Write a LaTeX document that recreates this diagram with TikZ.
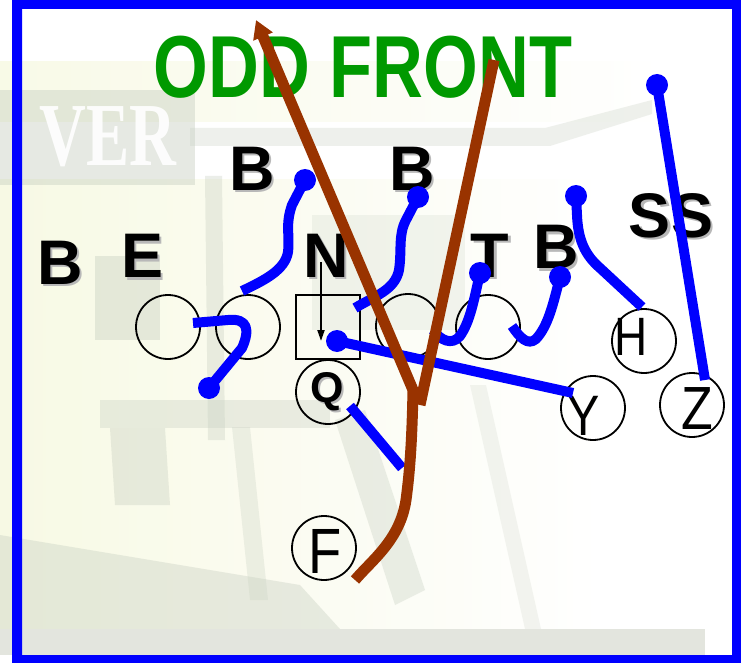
\documentclass[tikz,border=0pt]{standalone}
\usepackage{fontspec}
\usepackage{graphicx}
\usepackage{xcolor}
\setmainfont{Liberation Sans}
\newfontfamily\signfont{Liberation Serif}
\usetikzlibrary{arrows.meta}

\definecolor{routeblue}{RGB}{0,0,255}
\definecolor{runbrown}{RGB}{153,51,0}
\definecolor{titlegreen}{RGB}{0,153,0}
\definecolor{bggray}{RGB}{200,208,194}
\definecolor{bgdark}{RGB}{176,186,172}
\definecolor{bgyellow}{RGB}{246,248,222}
\definecolor{bargray}{RGB}{227,229,222}

% letter with a soft drop shadow, set as one piece of text
\newcommand\shadowed[1]{\rlap{\kern2.5pt\raisebox{-2.5pt}{\color{black!28}#1}}#1}

\begin{document}
\begin{tikzpicture}[x=1pt,y=-1pt,
  bold pos/.style={inner sep=0pt, anchor=base, font=\fontsize{63}{63}\selectfont\bfseries},
  player/.style={circle, draw=black, line width=1.8pt, minimum size=64pt, inner sep=0pt},
  snapbox/.style={rectangle, draw=black, line width=1.8pt, minimum size=64pt, inner sep=0pt},
  player tag/.style={inner sep=0pt, anchor=base},
  route/.style={draw=routeblue, line width=10pt, line join=round},
  run/.style={draw=runbrown, line width=11pt, line join=round},
  faded/.style={fill=bggray, draw=none, opacity=#1},
  faded/.default=0.3,
]
\useasboundingbox (0,0) rectangle (741,663);
\fill[white] (0,0) rectangle (741,663);

% ---- faint stadium backdrop ----
\shade[left color=bgyellow, right color=white, opacity=0.8] (0,180) rectangle (600,629);
\shade[left color=bgyellow, right color=white, opacity=0.7] (0,62) rectangle (660,122);
\fill[faded=0.45] (0,90) -- (195,90) -- (195,185) -- (0,185) -- cycle;
\node[inner sep=0pt, anchor=base, text=white, opacity=0.9,
      font=\fontsize{90}{90}\selectfont\signfont\bfseries]
  (sign) at (108,166) {\scalebox{0.72}[1]{VER}};
\fill[faded=0.3] (190,128) -- (545,128) -- (652,100) -- (652,114) -- (550,146) -- (190,146) -- cycle;
\fill[faded=0.35] (205,176) -- (222,176) -- (225,440) -- (208,440) -- cycle;
\fill[bgdark, opacity=0.28] (95,256) -- (160,256) -- (160,340) -- (95,340) -- cycle;
\fill[faded=0.35] (100,400) -- (330,400) -- (330,428) -- (100,428) -- cycle;
\fill[bgdark, opacity=0.25] (110,428) -- (165,428) -- (170,505) -- (115,505) -- cycle;
\fill[faded=0.3] (232,427) -- (250,427) -- (268,600) -- (250,600) -- cycle;
\fill[faded=0.4] (0,535) -- (300,585) -- (340,629) -- (0,629) -- cycle;
\fill[faded=0.35] (335,420) -- (365,410) -- (425,590) -- (395,605) -- cycle;
\fill[faded=0.22] (470,385) -- (486,385) -- (541,629) -- (525,629) -- cycle;
\fill[faded=0.22] (312,215) -- (465,215) -- (465,330) -- (312,330) -- cycle;

% ---- bottom strip ----
\fill[bargray] (0,629) rectangle (705,655);

% ---- defenders ----
\foreach \nm/\x/\y/\t in {bl/60/284/B, el/142.5/277.7/E, bone/252/190/B, btwo/412/190/B,
                          nl/326/277/N, tl/490/277/T, bthree/556/268.5/B, ss/671/237/SS}{
  \node[bold pos] (\nm) at (\x,\y) {\shadowed{\t}};
}

% ---- title ----
\node[inner sep=0pt, anchor=base, text=titlegreen, font=\fontsize{88}{88}\selectfont\bfseries]
  (title) at (363,98) {\scalebox{0.8}[1]{ODD FRONT}};

% ---- offense ----
\node[player] (lt) at (168,327) {};
\node[player] (lg) at (248,327) {};
\node[snapbox] (ce) at (328,327) {};
\node[player] (rg) at (408,326) {};
\node[player] (rt) at (488,327) {};
\node[player] (qb) at (328,392) {};
\node[player] (hb) at (644,341) {};
\node[player] (ye) at (593,408) {};
\node[player] (zr) at (692,405) {};
\node[player] (fb) at (324,548) {};

\node[bold pos, font=\fontsize{43}{43}\selectfont\bfseries] (ql) at (327,402) {\shadowed{Q}};
\node[player tag, font=\fontsize{54}{54}\selectfont] (hl) at (631,355) {\scalebox{0.85}[1]{H}};
\node[player tag, font=\fontsize{57}{57}\selectfont] (yl) at (584,435) {\scalebox{0.85}[1]{Y}};
\node[player tag, font=\fontsize{61}{61}\selectfont] (zl) at (697,429) {\scalebox{0.85}[1]{Z}};
\node[player tag, font=\fontsize{64}{64}\selectfont] (fl) at (325,573) {\scalebox{0.85}[1]{F}};

% ---- defensive routes ----
\coordinate (e0) at (193,323);   \coordinate (e1) at (209,388);
\coordinate (ba0) at (242,291);  \coordinate (ba1) at (305,180);
\coordinate (bb0) at (355,308);  \coordinate (bb1) at (418,197);
\coordinate (t0) at (433,330);   \coordinate (t1) at (480,273);
\coordinate (bc0) at (512,326);  \coordinate (bc1) at (560,277);
\coordinate (h0) at (642,307);   \coordinate (h1) at (576,196);
\coordinate (s0) at (705,380);   \coordinate (s1) at (657,85);
\coordinate (q0) at (573,393);   \coordinate (q1) at (337,341);
\coordinate (qa) at (350,406);   \coordinate (qb2) at (402,468);

\draw[route] (e0) -- (228,320) .. controls (248,318) and (250,330) .. (242,348) -- (e1);
\draw[route] (ba0) .. controls (265,280) and (285,270) .. (288,252)
             .. controls (290,235) and (285,225) .. (292,205) -- (ba1);
\draw[route] (bb0) .. controls (375,296) and (395,290) .. (399,270)
             .. controls (402,250) and (398,235) .. (406,220) -- (bb1);
\draw[route] (t0) .. controls (440,340) and (452,346) .. (460,336)
             .. controls (470,322) and (474,300) .. (t1);
\draw[route] (bc0) .. controls (520,338) and (528,346) .. (536,339)
             .. controls (548,326) and (553,305) .. (bc1);
\draw[route] (h0) -- (600,268) .. controls (585,255) and (578,240) .. (577,215) -- (h1);
\draw[route] (s0) -- (s1);
\draw[route] (q0) -- (q1);
\draw[route] (qa) -- (qb2);

\foreach \d in {e1,ba1,bb1,t1,bc1,h1,s1,q1}{
  \fill[routeblue] (\d) circle (11pt);
}

% ---- fullback run ----
\coordinate (f0) at (355,580);
\coordinate (fy) at (413,390);
\coordinate (fa) at (256,20);
\coordinate (fr0) at (494,60);
\coordinate (fr1) at (420,405);
\draw[run] (fr0) -- (fr1);
\draw[run, -{Triangle[length=18pt,width=20pt]}] (f0) .. controls (372,560) and (400,540) .. (406,500)
        .. controls (410,470) and (412,440) .. (fy) -- (fa);

% ---- center snap arrow ----
\coordinate (n0) at (321,262);
\coordinate (n1) at (321,341);
\draw[line width=2pt, -{Triangle[length=11pt,width=7pt]}] (n0) -- (n1);

% ---- frame ----
\fill[routeblue, even odd rule] (12,0) rectangle (741,663) (22,9) rectangle (732,655);
\end{tikzpicture}
\end{document}
